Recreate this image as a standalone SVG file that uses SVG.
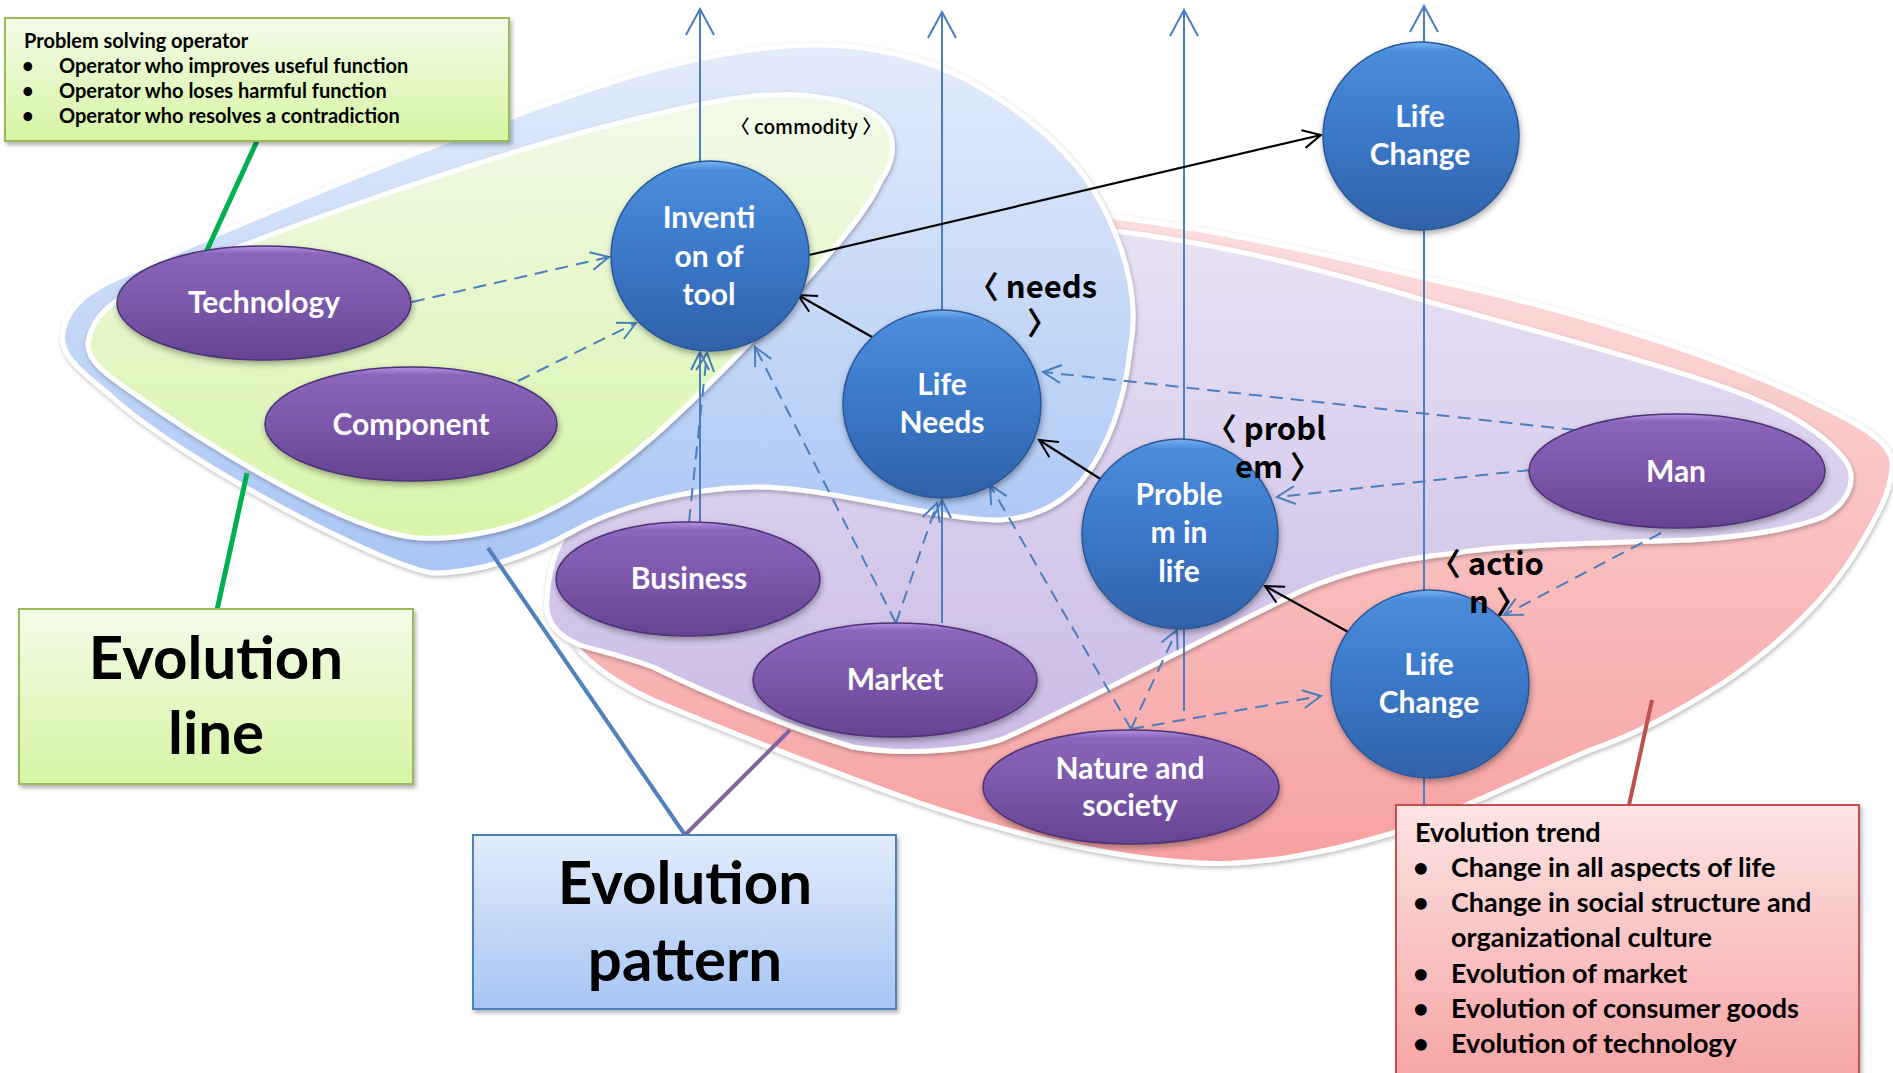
<svg xmlns="http://www.w3.org/2000/svg" width="1893" height="1073" viewBox="0 0 1893 1073">
<defs>
  <style>
    .ntext { font-family: Lato, "Liberation Sans", sans-serif; font-weight: bold; font-size: 30px; fill: #ffffff; text-anchor: middle; }
    .btext { font-family: Lato, "Liberation Sans", sans-serif; font-weight: bold; fill: #000000; }
    .big { font-family: Lato, "Liberation Sans", sans-serif; font-weight: bold; font-size: 60px; fill: #000000; text-anchor: middle; }
    .lab { font-family: "Noto Sans CJK KR", "Noto Sans", sans-serif; font-weight: bold; font-size: 31px; fill: #000000; }
    .blob { stroke: #ffffff; stroke-width: 5; filter: url(#soft); }
    .vline { fill: none; stroke: #4a7ebf; stroke-width: 2; marker-end: url(#arrTall); }
    .sline { fill: none; stroke: #4a7ebf; stroke-width: 2; marker-end: url(#arrBlue); }
    .dline { fill: none; stroke: #4a7ebf; stroke-width: 2; stroke-dasharray: 13 8; marker-end: url(#arrBlue); }
    .kline { fill: none; stroke: #000000; stroke-width: 2.2; marker-end: url(#arrBlack); }
    .bnode { fill: url(#gBlueNode); stroke: #2b5797; stroke-width: 1.5; filter: url(#nshadow); }
    .pnode { fill: url(#gPurpleNode); stroke: #4d3275; stroke-width: 1.5; filter: url(#nshadow); }
  </style>
  <filter id="soft" x="-5%" y="-5%" width="110%" height="115%">
    <feDropShadow dx="1" dy="2" stdDeviation="2" flood-color="#000000" flood-opacity="0.28"/>
  </filter>
  <filter id="nshadow" x="-10%" y="-10%" width="125%" height="130%">
    <feDropShadow dx="1" dy="3" stdDeviation="3" flood-color="#000000" flood-opacity="0.35"/>
  </filter>
  <filter id="bshadow" x="-5%" y="-5%" width="110%" height="115%">
    <feDropShadow dx="2" dy="3" stdDeviation="2" flood-color="#000000" flood-opacity="0.3"/>
  </filter>
  <linearGradient id="gBlueBlob" x1="0" y1="0" x2="0" y2="1">
    <stop offset="0" stop-color="#e3ecfb"/>
    <stop offset="1" stop-color="#a9c5f4"/>
  </linearGradient>
  <linearGradient id="gGreenBlob" x1="0" y1="0" x2="0" y2="1">
    <stop offset="0" stop-color="#f2fae9"/>
    <stop offset="1" stop-color="#d8f5aa"/>
  </linearGradient>
  <linearGradient id="gPurpleBlob" x1="0" y1="0" x2="0" y2="1">
    <stop offset="0" stop-color="#e8e2f4"/>
    <stop offset="1" stop-color="#cbbbe6"/>
  </linearGradient>
  <linearGradient id="gRedBlob" x1="0" y1="0" x2="0" y2="1">
    <stop offset="0" stop-color="#fcdede"/>
    <stop offset="1" stop-color="#f7a1a1"/>
  </linearGradient>
  <linearGradient id="gGreenBox" x1="0" y1="0" x2="0" y2="1">
    <stop offset="0" stop-color="#f3fbe9"/>
    <stop offset="1" stop-color="#d6f5a3"/>
  </linearGradient>
  <linearGradient id="gBlueBox" x1="0" y1="0" x2="0" y2="1">
    <stop offset="0" stop-color="#e2ecfc"/>
    <stop offset="1" stop-color="#a7c5f4"/>
  </linearGradient>
  <linearGradient id="gRedBox" x1="0" y1="0" x2="0" y2="1">
    <stop offset="0" stop-color="#fde4e4"/>
    <stop offset="1" stop-color="#f6a2a2"/>
  </linearGradient>
  <linearGradient id="gBlueNode" x1="0" y1="0" x2="0" y2="1">
    <stop offset="0" stop-color="#78b3f3"/>
    <stop offset="0.05" stop-color="#4a8ddb"/>
    <stop offset="0.45" stop-color="#3c7acb"/>
    <stop offset="1" stop-color="#2f61a8"/>
  </linearGradient>
  <linearGradient id="gPurpleNode" x1="0" y1="0" x2="0" y2="1">
    <stop offset="0" stop-color="#b391e3"/>
    <stop offset="0.07" stop-color="#8a66bb"/>
    <stop offset="0.5" stop-color="#7b57aa"/>
    <stop offset="1" stop-color="#654392"/>
  </linearGradient>
  <marker id="arrTall" viewBox="-2 -2 30 32" refX="26" refY="14" markerWidth="30" markerHeight="32" markerUnits="userSpaceOnUse" orient="auto">
    <path d="M0,0 L26,14 L0,28" fill="none" stroke="#4a7ebf" stroke-width="2"/>
  </marker>
  <marker id="arrBlue" viewBox="-2 -2 22 22" refX="18" refY="9" markerWidth="22" markerHeight="22" markerUnits="userSpaceOnUse" orient="auto">
    <path d="M0,0 L18,9 L0,18" fill="none" stroke="#4a7ebf" stroke-width="2"/>
  </marker>
  <marker id="arrBlack" viewBox="-2 -2 22 22" refX="18" refY="9" markerWidth="22" markerHeight="22" markerUnits="userSpaceOnUse" orient="auto">
    <path d="M0,0 L18,9 L0,18" fill="none" stroke="#000000" stroke-width="2"/>
  </marker>
</defs>

<rect x="0" y="0" width="1893" height="1073" fill="#ffffff"/>

<!-- layered regions: trend (red), pattern lower (purple), pattern upper (blue), line (green) -->
<g id="regions">
  <path id="region-red" class="blob" fill="url(#gRedBlob)" d="M1085,214 C1200,225 1330,255 1433,280 C1560,307 1720,355 1823,407 C1855,423 1890,440 1892,462 C1893,490 1875,520 1857,550 C1830,595 1780,645 1723,683 C1680,710 1640,733 1590,750 C1520,780 1450,815 1393,833 C1320,855 1250,866 1200,863 C1100,858 1000,830 920,803 C850,778 760,745 653,700 C620,685 590,665 575,645 L560,600 L600,520 L1000,450 Z"/>
  <path id="region-purple" class="blob" fill="url(#gPurpleBlob)" d="M1090,228 C1200,240 1300,262 1433,303 C1550,335 1700,375 1757,400 C1800,418 1830,440 1845,460 C1858,478 1850,502 1823,517 C1790,530 1740,537 1690,540 C1600,543 1500,545 1457,553 C1380,560 1320,580 1283,600 C1200,640 1060,715 1000,740 C960,752 900,755 853,747 C780,725 700,690 653,667 C620,655 595,650 580,645 C555,635 545,620 547,600 C548,575 555,550 567,530 L620,470 L1000,440 Z"/>
  <path id="region-blue" class="blob" fill="url(#gBlueBlob)" d="M63,332 C68,305 90,290 120,277 C260,214 450,136 600,86 C665,65 745,45 818,45 C870,45 925,58 967,80 C1012,104 1050,135 1077,167 C1100,195 1122,240 1130,283 C1134,305 1134,330 1130,350 C1125,400 1108,450 1080,483 C1060,505 1035,518 1000,520 C940,521 820,485 753,487 C690,488 620,505 570,533 C530,555 480,573 433,573 C380,565 180,460 110,395 C85,375 58,355 63,332 Z"/>
  <path id="region-green" class="blob" fill="url(#gGreenBlob)" d="M88,342 C92,318 110,302 140,287 C260,235 500,150 640,118 C690,106 735,96 772,95 C810,93 870,100 887,127 C897,143 892,165 881,180 C866,215 822,262 789,300 C760,333 700,395 653,437 C615,470 570,505 520,523 C490,533 450,540 420,538 C350,535 200,440 133,393 C110,377 86,362 88,342 Z"/>
</g>

<!-- callout leader lines -->
<g id="callouts" fill="none" stroke-linecap="butt">
  <line x1="257" y1="141" x2="202" y2="261" stroke="#00b050" stroke-width="5"/>
  <line x1="247" y1="473" x2="217" y2="610" stroke="#00b050" stroke-width="5"/>
  <line x1="488" y1="548" x2="685" y2="835" stroke="#4f81bd" stroke-width="4"/>
  <line x1="790" y1="730" x2="685" y2="835" stroke="#8064a2" stroke-width="4"/>
  <line x1="1652" y1="700" x2="1629" y2="805" stroke="#c0504d" stroke-width="4"/>
</g>

<g id="connectors">
  <!-- upward evolution axes -->
  <path class="vline" d="M700,161 L700,9"/>
  <path class="vline" d="M942,310 L942,12"/>
  <path class="vline" d="M1184,711 L1184,10"/>
  <path class="vline" d="M1424,805 L1424,6"/>
  <!-- solid blue links -->
  <path class="sline" d="M700,522 L700,352"/>
  <path class="sline" d="M942,623 L942,500"/>
  <!-- dashed influences -->
  <path class="dline" d="M412,302 L609,257"/>
  <path class="dline" d="M518,381 L636,323"/>
  <path class="dline" d="M689,522 L707,353"/>
  <path class="dline" d="M896,623 L755,347"/>
  <path class="dline" d="M896,623 L937,503"/>
  <path class="dline" d="M1131,729 L990,485"/>
  <path class="dline" d="M1131,729 L1177,630"/>
  <path class="dline" d="M1131,729 L1321,696"/>
  <path class="dline" d="M1575,430 L1043,372"/>
  <path class="dline" d="M1530,470 L1277,497"/>
  <path class="dline" d="M1661,533 L1504,615"/>
  <!-- black flow arrows -->
  <path class="kline" d="M809,255 L1321,135"/>
  <path class="kline" d="M872,337 L798,295"/>
  <path class="kline" d="M1102,480 L1039,440"/>
  <path class="kline" d="M1350,633 L1265,586"/>
</g>

<g id="node-technology">
  <ellipse class="pnode" cx="264" cy="303" rx="147" ry="57"/>
  <text class="ntext" x="264" y="313">Technology</text>
</g>
<g id="node-component">
  <ellipse class="pnode" cx="411" cy="424" rx="146" ry="57"/>
  <text class="ntext" x="411" y="435">Component</text>
</g>
<g id="node-business">
  <ellipse class="pnode" cx="688" cy="579" rx="132" ry="57"/>
  <text class="ntext" x="689" y="589">Business</text>
</g>
<g id="node-market">
  <ellipse class="pnode" cx="895" cy="680" rx="142" ry="57"/>
  <text class="ntext" x="895" y="690">Market</text>
</g>
<g id="node-nature">
  <ellipse class="pnode" cx="1131" cy="787" rx="148" ry="57"/>
  <text class="ntext" x="1130" y="779">Nature and</text>
  <text class="ntext" x="1130" y="816">society</text>
</g>
<g id="node-man">
  <ellipse class="pnode" cx="1677" cy="471" rx="148" ry="57"/>
  <text class="ntext" x="1676" y="482">Man</text>
</g>

<g id="node-invention">
  <ellipse class="bnode" cx="710" cy="256" rx="99" ry="95"/>
  <text class="ntext" x="709" y="228">Inventi</text>
  <text class="ntext" x="709" y="267">on of</text>
  <text class="ntext" x="709" y="305">tool</text>
</g>
<g id="node-life-needs">
  <ellipse class="bnode" cx="942" cy="404" rx="99" ry="94"/>
  <text class="ntext" x="942" y="395">Life</text>
  <text class="ntext" x="942" y="433">Needs</text>
</g>
<g id="node-life-change-top">
  <ellipse class="bnode" cx="1421" cy="136" rx="98" ry="94"/>
  <text class="ntext" x="1420" y="127">Life</text>
  <text class="ntext" x="1420" y="165">Change</text>
</g>
<g id="node-problem">
  <ellipse class="bnode" cx="1180" cy="534" rx="98" ry="95"/>
  <text class="ntext" x="1179" y="505">Proble</text>
  <text class="ntext" x="1179" y="543">m in</text>
  <text class="ntext" x="1179" y="582">life</text>
</g>
<g id="node-life-change-bottom">
  <ellipse class="bnode" cx="1430" cy="684" rx="99" ry="94"/>
  <text class="ntext" x="1429" y="675">Life</text>
  <text class="ntext" x="1429" y="713">Change</text>
</g>

<g id="labels">
  <text class="lab" style="font-size:19px;font-weight:500" x="806" y="134" text-anchor="middle">〈 commodity 〉</text>
  <text class="lab" x="1097" y="298" text-anchor="end">〈 needs</text>
  <text class="lab" x="1027" y="334">〉</text>
  <text class="lab" x="1326" y="440" text-anchor="end">〈 probl</text>
  <text class="lab" x="1235" y="478">em 〉</text>
  <text class="lab" x="1544" y="575" text-anchor="end">〈 actio</text>
  <text class="lab" x="1469" y="613">n 〉</text>
</g>

<g id="box-operator">
  <rect x="5" y="18" width="504" height="123" fill="url(#gGreenBox)" stroke="#9bbb59" stroke-width="2" filter="url(#bshadow)"/>
  <text class="btext" font-size="20" x="24" y="48">Problem solving operator</text>
  <text class="btext" font-size="20" x="22" y="73">•</text>
  <text class="btext" font-size="20" x="59" y="73">Operator who improves useful function</text>
  <text class="btext" font-size="20" x="22" y="98">•</text>
  <text class="btext" font-size="20" x="59" y="98">Operator who loses harmful function</text>
  <text class="btext" font-size="20" x="22" y="123">•</text>
  <text class="btext" font-size="20" x="59" y="123">Operator who resolves a contradiction</text>
</g>

<g id="box-evolution-line">
  <rect x="19" y="609" width="394" height="175" fill="url(#gGreenBox)" stroke="#9bbb59" stroke-width="2" filter="url(#bshadow)"/>
  <text class="big" x="216" y="679">Evolution</text>
  <text class="big" x="216" y="754">line</text>
</g>

<g id="box-evolution-pattern">
  <rect x="473" y="835" width="423" height="174" fill="url(#gBlueBox)" stroke="#4f81bd" stroke-width="2" filter="url(#bshadow)"/>
  <text class="big" x="685" y="904">Evolution</text>
  <text class="big" x="685" y="981">pattern</text>
</g>

<g id="box-evolution-trend">
  <rect x="1396" y="805" width="463" height="285" fill="url(#gRedBox)" stroke="#c0504d" stroke-width="2" filter="url(#bshadow)"/>
  <text class="btext" font-size="27" x="1415" y="842">Evolution trend</text>
  <text class="btext" font-size="27" x="1413" y="877">•</text>
  <text class="btext" font-size="27" x="1451" y="877">Change in all aspects of life</text>
  <text class="btext" font-size="27" x="1413" y="912">•</text>
  <text class="btext" font-size="27" x="1451" y="912">Change in social structure and</text>
  <text class="btext" font-size="27" x="1451" y="947">organizational culture</text>
  <text class="btext" font-size="27" x="1413" y="983">•</text>
  <text class="btext" font-size="27" x="1451" y="983">Evolution of market</text>
  <text class="btext" font-size="27" x="1413" y="1018">•</text>
  <text class="btext" font-size="27" x="1451" y="1018">Evolution of consumer goods</text>
  <text class="btext" font-size="27" x="1413" y="1053">•</text>
  <text class="btext" font-size="27" x="1451" y="1053">Evolution of technology</text>
</g>
</svg>
